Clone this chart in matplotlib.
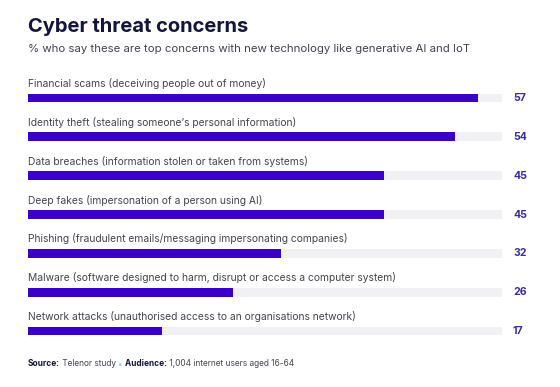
import matplotlib
matplotlib.use("Agg")
import matplotlib.pyplot as plt

plt.rcParams['font.family'] = ['Inter', 'DejaVu Sans']

labels = [
    "Financial scams (deceiving people out of money)",
    "Identity theft (stealing someone\u2019s personal information)",
    "Data breaches (information stolen or taken from systems)",
    "Deep fakes (impersonation of a person using AI)",
    "Phishing (fraudulent emails/messaging impersonating companies)",
    "Malware (software designed to harm, disrupt or access a computer system)",
    "Network attacks (unauthorised access to an organisations network)",
]
values = [57, 54, 45, 45, 32, 26, 17]
track_max = 60

bar_col = "#3a00c8"
track_col = "#f1f1f4"
num_col = "#3b2f9c"
dark = "#15143a"
grey = "#444450"

W, H = 560, 387
fig = plt.figure(figsize=(W / 100, H / 100), dpi=100)

# axes placed in pixel terms
left, right = 28, 502
top, bottom = 78.6, 350.4
ax = fig.add_axes([left / W, 1 - bottom / H, (right - left) / W, (bottom - top) / H])
ax.set_xlim(0, track_max)
ax.set_ylim(len(values) - 0.5, -0.5)
ax.axis("off")

ys = list(range(len(values)))
ax.barh(ys, [track_max] * len(values), height=0.23, color=track_col, left=0)
ax.barh(ys, values, height=0.23, color=bar_col)

for i, (lab, v) in enumerate(zip(labels, values)):
    ax.text(0, i - 0.37, lab, ha="left", va="center", fontsize=7.4, color=grey)
    ax.text(track_max + 1.4, i, str(v), ha="left", va="center", fontsize=7.6,
            fontweight="bold", color=num_col, clip_on=False)

fig.text(left / W, 1 - 27 / H, "Cyber threat concerns", ha="left", va="center",
         fontsize=14.5, fontweight="bold", color=dark)
fig.text(left / W, 1 - 49 / H,
         "% who say these are top concerns with new technology like generative AI and IoT",
         ha="left", va="center", fontsize=8.2, color=grey)

# footer
fy = 1 - 364 / H
r = fig.canvas.get_renderer()
x = left / W
parts = [("Source:", "bold", dark), (" Telenor study ", "normal", grey),
         ("\u2022", "normal", "#9fc6e8"), (" Audience:", "bold", dark),
         (" 1,004 internet users aged 16-64", "normal", grey)]
for txt, wt, c in parts:
    t = fig.text(x, fy, txt, ha="left", va="center", fontsize=6.0, fontweight=wt, color=c)
    bb = t.get_window_extent(renderer=r)
    x += bb.width / W

fig.savefig("out.png", dpi=100)
